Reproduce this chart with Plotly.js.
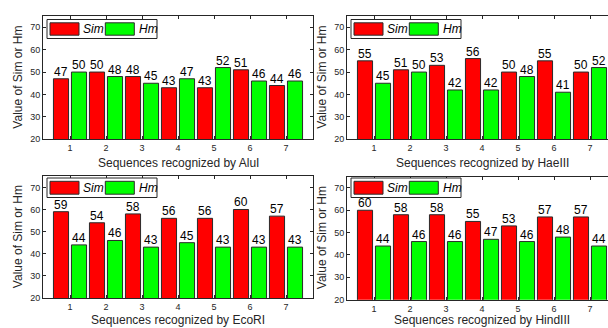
<!DOCTYPE html>
<html>
<head>
<meta charset="utf-8">
<script src="https://cdn.plot.ly/plotly-3.0.1.min.js"></script>
<style>
html,body{margin:0;padding:0;overflow:hidden;background:#fff;width:608px;height:328px;}
#chart{width:620px;height:328px;}
</style>
</head>
<body>
<div id="chart"></div>
<script>
// ---- data ----
const categories = [1, 2, 3, 4, 5, 6, 7];
const xTickLabels = ['1', '2', '3', '4', '5', '6', '7'];
const yTickValues = [20, 30, 40, 50, 60, 70];
const seriesNames = ['Sim', 'Hm'];
const enzymes = ['AluI', 'HaeIII', 'EcoRI', 'HindIII'];
const aluiSim = [47, 50, 48, 43, 43, 51, 44];
const aluiHm = [50, 48, 45, 47, 52, 46, 46];
const haeiiiSim = [55, 51, 53, 56, 50, 55, 50];
const haeiiiHm = [45, 50, 42, 42, 48, 41, 52];
const ecoriSim = [59, 54, 58, 56, 56, 60, 57];
const ecoriHm = [44, 46, 43, 45, 43, 43, 43];
const hindiiiSim = [60, 58, 58, 55, 53, 57, 57];
const hindiiiHm = [44, 46, 46, 47, 46, 48, 44];

// ---- layout helpers ----
const W = 620, H = 328;
const px = x => x / W;
const py = y => 1 - y / H;
const FONT = 'Arial, "Liberation Sans", Helvetica, sans-serif';
const AX = '#262626';
const RED = '#ff0000', GREEN = '#00ff00';

const panels = [
  {sim: aluiSim, hm: aluiHm, x0: 43, x1: 313, y0: 16, y1: 139.3, legTop: 19.5, legH: 19, titleY: 163},
  {sim: haeiiiSim, hm: haeiiiHm, x0: 347, x1: 617, y0: 16, y1: 139.3, legTop: 19.5, legH: 19, titleY: 163},
  {sim: ecoriSim, hm: ecoriHm, x0: 43, x1: 313, y0: 176.3, y1: 298, legTop: 178, legH: 19.5, titleY: 320.3},
  {sim: hindiiiSim, hm: hindiiiHm, x0: 347, x1: 617, y0: 176.7, y1: 299.7, legTop: 178, legH: 19.5, titleY: 320.3}
];

const data = [];
const layout = {
  width: W, height: H,
  margin: {l: 0, r: 0, t: 0, b: 0},
  paper_bgcolor: '#fff', plot_bgcolor: '#fff',
  barmode: 'group', bargap: 0, bargroupgap: 0.16,
  showlegend: false,
  font: {family: FONT, color: AX},
  shapes: [], annotations: []
};

panels.forEach((p, i) => {
  const n = i + 1;
  const xa = 'x' + n, ya = 'y' + n;
  [[p.sim, RED, seriesNames[0], -9], [p.hm, GREEN, seriesNames[1], 9]].forEach(([vals, col, nm, shift]) => {
    data.push({
      type: 'bar', name: nm, x: categories, y: vals,
      xaxis: xa, yaxis: ya,
      marker: {color: col, line: {color: '#2a2a2a', width: 1}},
      hoverinfo: 'x+y'
    });
    // value labels above bars
    vals.forEach((v, j) => {
      layout.annotations.push({
        xref: xa, yref: ya, x: categories[j], y: v, xshift: shift, yshift: -2,
        text: String(v), showarrow: false, xanchor: 'center', yanchor: 'bottom',
        font: {family: FONT, size: 12, color: '#000'}
      });
    });
  });
  const axCommon = {
    showgrid: false, zeroline: false, showline: true, linecolor: AX, linewidth: 1,
    mirror: 'ticks', ticks: 'inside', ticklen: 3, tickcolor: AX, tickwidth: 1,
    tickfont: {family: FONT, size: 9, color: AX}, fixedrange: true
  };
  layout['xaxis' + (n === 1 ? '' : n)] = Object.assign({}, axCommon, {
    domain: [px(p.x0), px(p.x1)], anchor: ya, range: [0.25, 7.75],
    tickmode: 'array', tickvals: categories, ticktext: xTickLabels
  });
  layout['yaxis' + (n === 1 ? '' : n)] = Object.assign({}, axCommon, {
    domain: [py(p.y1), py(p.y0)], anchor: xa, range: [20, 75],
    tickmode: 'array', tickvals: yTickValues, ticktext: yTickValues.map(String)
  });

  // axis titles
  layout.annotations.push({
    xref: 'paper', yref: 'paper', x: px((p.x0 + p.x1) / 2), y: py(p.titleY),
    text: 'Sequences recognized by ' + enzymes[i], showarrow: false,
    xanchor: 'center', yanchor: 'middle', font: {family: FONT, size: 12, color: AX}
  });
  layout.annotations.push({
    xref: 'paper', yref: 'paper', x: px(p.x0 - 25), y: py((p.y0 + p.y1) / 2),
    text: 'Value of Sim or Hm', showarrow: false, textangle: -90,
    xanchor: 'center', yanchor: 'middle', font: {family: FONT, size: 12, color: AX}
  });

  // custom legend
  const lx = p.x0 + 4, lt = p.legTop, lb = p.legTop + p.legH;
  layout.shapes.push({type: 'rect', xref: 'paper', yref: 'paper',
    x0: px(lx), x1: px(lx + 110), y0: py(lb), y1: py(lt),
    fillcolor: '#fff', line: {color: AX, width: 1}});
  const sy0 = lt + 3.3, sy1 = lb - 3.3;
  [[7, 36, RED, 38, seriesNames[0]], [62.3, 91.3, GREEN, 93.5, seriesNames[1]]].forEach(([a, b, col, tx, nm]) => {
    layout.shapes.push({type: 'rect', xref: 'paper', yref: 'paper',
      x0: px(p.x0 + a), x1: px(p.x0 + b), y0: py(sy1), y1: py(sy0),
      fillcolor: col, line: {color: '#2a2a2a', width: 1}});
    layout.annotations.push({xref: 'paper', yref: 'paper',
      x: px(p.x0 + tx), y: py((lt + lb) / 2), text: '<i>' + nm + '</i>', showarrow: false,
      xanchor: 'left', yanchor: 'middle', font: {family: FONT, size: 12, color: '#000'}});
  });
});

Plotly.newPlot('chart', data, layout, {displayModeBar: false, staticPlot: true});
</script>
</body>
</html>
